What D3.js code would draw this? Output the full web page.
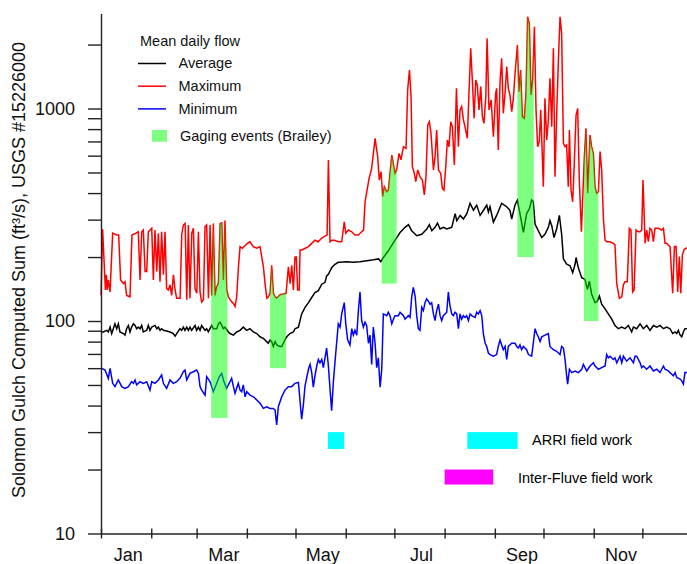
<!DOCTYPE html>
<html>
<head>
<meta charset="utf-8">
<script src="https://cdn.jsdelivr.net/npm/d3@7"></script>
<style>
body { margin: 0; background: #fff; }
svg { font-family: 'Liberation Sans', Arial, sans-serif; display: block; }
</style>
</head>
<body>
<svg id="chart" width="687" height="564"></svg>
<script>
// [day of year (0 = Jan 1), mean daily flow in ft3/s]
var maxFlow = [
    [0,132],[1,270],[2.7,140],[3.3,165],[3.9,140],[4.5,156],[5.6,137],[7.2,259],[9.7,254],[10.9,254],
    [12.1,156],[13.8,150],[14.8,153],[15.8,132],[17.9,130],[19.1,254],[21.6,259],[23,263],[24.1,156],[25.1,263],
    [26.1,268],[27.2,171],[28.2,171],[29.2,263],[30.2,268],[31.3,273],[32.3,156],[33.3,268],[34.4,171],[35.4,259],
    [36.4,153],[37.4,263],[38.5,165],[39.5,263],[40.5,142],[41.6,140],[42.6,148],[43.6,132],[44.7,165],[45.7,140],
    [46.7,128],[48.8,128],[49.8,254],[50.8,283],[51.9,288],[52.9,126],[53.9,283],[54.9,128],[56,259],[57,273],
    [58,142],[59.1,135],[60.1,263],[61.1,137],[62.1,123],[63.2,126],[64.2,278],[65.2,283],[66.3,128],[67.3,283],
    [68.3,132],[69.3,288],[70.4,132],[71.4,145],[72.4,150],[73.5,288],[74.5,290],[75.5,156],[76.5,297],[77.6,140],
    [78.6,130],[79.6,126],[80.7,123],[81.7,121],[82.7,117],[83.7,130],[84.8,180],[85.8,224],[87.2,220],[89.3,228],
    [90.3,232],[91.9,236],[93.9,224],[96.1,220],[98.1,224],[100.2,180],[101.2,150],[102.3,128],[103.3,130],[104.3,135],
    [105.3,183],[106.4,135],[107.4,130],[108.4,128],[110.5,133],[112.6,134],[114.2,135],[115.6,180],[116.7,150],[117.7,183],
    [118.7,140],[119.7,200],[120.5,200],[121.3,140],[122.3,140],[122.8,216],[124,216],[126,220],[128,224],[130,232],
    [132,240],[134,236],[136,245],[138,250],[139.5,254],[140.3,573],[141.3,236],[142.3,240],[144,240],[146.5,236],
    [148.5,236],[150.1,293],[151,259],[152.6,268],[154.7,263],[156.7,254],[158.8,254],[160.8,263],[162,268],[162.9,364],
    [165.4,469],[167,523],[169.1,724],[170.7,593],[171.7,461],[172.8,504],[173.8,385],[174.8,429],[176.3,406],[177.3,413],
    [179.4,604],[181.4,495],[182.4,514],[183.9,615],[185.1,573],[186.6,661],[188.2,649],[189.2,1222],[190.3,1518],[191.3,1137],
    [192.1,532],[193.3,495],[194.2,453],[195.4,514],[196.8,478],[198.3,461],[199.5,392],[200.5,478],[201.6,836],[202.6,867],
    [203.6,764],[205.1,514],[206.1,593],[207.1,793],[208.2,514],[209.6,495],[210.6,421],[211.6,413],[212.7,532],[213.7,711],
    [214.7,661],[215.8,867],[216.8,820],[218,542],[219.3,1245],[220.5,661],[221.5,985],[222.5,1021],[223.6,884],[224.6,820],
    [226,724],[227.1,1222],[228.1,1919],[229.1,1362],[230.2,899],[231.2,1362],[232.2,1290],[233.2,985],[234.3,1268],[235.3,916],
    [236.3,851],[237.4,1137],[238.2,2138],[239.4,985],[240.7,1097],[242.1,737],[243.5,1178],[244.1,1245],[245.1,638],[246.2,1337],
    [247.2,1722],[248.2,949],[249.3,1178],[250.3,1574],[251.3,1245],[252.3,1157],[253.4,966],[254.4,1117],[255.4,1439],[256.9,1991],
    [257.9,1200],[258.9,1518],[260,916],[261.2,899],[262.2,1178],[263.2,2704],[264.3,2517],[265.3,1157],[266.3,1362],[267.4,2427],
    [268.4,985],[269.4,661],[270.4,698],[271.3,985],[272.3,593],[272.9,429],[273.9,1117],[275,711],[276,884],[277,1387],
    [278.1,820],[279.1,1919],[280.1,478],[281.1,916],[282.2,1691],[283.2,2704],[284.2,2259],[285.3,685],[286.3,661],[287.3,673],
    [288.3,429],[289,793],[290,413],[291,364],[292,552],[293.1,932],[294.1,1002],[295.1,461],[296.4,263],[298.2,593],
    [299.2,807],[300.3,399],[301.7,750],[302.7,661],[303.8,615],[304.8,429],[305.8,399],[306.9,406],[307.9,627],[308.9,514],
    [310,300],[311,240],[312,236],[314.1,236],[316.1,232],[317.1,228],[318.2,150],[319.8,128],[321.3,130],[322.3,148],
    [323.3,153],[324.7,153],[326,273],[327,268],[328,137],[328.9,140],[330.1,268],[331.5,263],[332.6,263],[333.6,268],
    [334.4,461],[335.7,232],[336.7,268],[337.7,236],[338.7,273],[339.8,268],[340.8,236],[341.8,273],[343.9,273],[345.9,268],
    [347,273],[348,232],[349,232],[350,228],[351.1,224],[352.7,135],[353.8,224],[354.8,224],[355.8,137],[356.8,201],
    [357.7,135],[358.7,205],[359.7,216],[360.7,220],[361.6,220],[365,220]
];

var avgFlow = [
    [0.4,88.8],[1.4,88.8],[3.5,90.4],[4.5,88.8],[5.6,93.6],[6.6,87.3],[7.6,92],[8.6,97],[9.7,92],[10.7,97],
    [11.7,88.8],[13.8,87.3],[14.8,85.8],[15.8,92],[16.9,95.3],[17.9,88.8],[18.9,93.6],[20,97],[21,95.3],[22,92],
    [23,93.6],[24.1,92],[25.1,95.3],[26.1,88.8],[28.2,90.4],[29.2,95.3],[30.2,90.4],[31.3,93.6],[33.3,95.3],[34.4,92],
    [35.4,93.6],[36.4,90.4],[37.4,92],[38.5,90.4],[40.5,89.8],[42.6,88.8],[44.6,87.3],[45.7,84.9],[46.7,87.3],[48.7,92],
    [49.8,90.4],[50.8,93.6],[51.8,90.4],[52.9,93.6],[53.9,90.4],[54.9,93.6],[55.9,90.4],[58,95.3],[59,90.4],[60.1,93.6],
    [61.1,90.4],[62.1,95.3],[64.2,90.4],[65.2,92],[66.2,88.8],[68.3,95.3],[69.3,92],[71.4,92],[72.4,97],[73.4,98.7],
    [74.5,95.3],[75.5,92],[76.5,93.6],[78.6,88.8],[79.6,87.3],[81.7,85.8],[83.7,88.8],[85.8,90.4],[87.8,93.6],[89.9,90.4],
    [91.9,92],[94,88.8],[96.1,87.3],[98.1,84.3],[100.2,82.8],[102.2,80],[103.2,78.6],[104.3,81.4],[105.3,80],[106.3,75.9],
    [107.4,80],[108.4,77.2],[110.4,75.9],[111.5,75.9],[112.5,78.6],[113.5,81.4],[114.6,84.3],[116.6,87.3],[118.7,88.8],[119.7,92],
    [121.8,93.6],[123.8,108],[125.9,116],[128,122],[130,129],[132,136],[134.1,139],[136.2,149],[138.2,152],[139.2,163],
    [140.3,166],[141.3,172],[142.3,178],[143.4,182],[144.4,185],[146.4,189],[147.5,189],[151.6,190],[155.7,189],[159.8,190],
    [164,192],[168.1,194],[171.2,196],[172.6,190],[174.2,199],[177.3,214],[180.4,234],[182.5,247],[184.5,261],[187.6,276],
    [189.7,284],[191.7,266],[194.8,252],[197.9,256],[201,271],[202.6,284],[204.1,266],[206.1,276],[207.6,289],[209.2,271],
    [211.3,276],[213.3,271],[216.4,276],[218.5,320],[219.5,297],[221.6,314],[223.6,302],[225.7,320],[227.7,358],[229.8,332],
    [231.8,351],[233.9,314],[236,332],[238,351],[239,326],[240,345],[242.1,292],[244.1,314],[247.2,358],[250.3,345],
    [252.3,332],[253.4,302],[255.4,351],[256.9,371],[258.5,320],[260.6,261],[262.6,320],[264.3,338],[265.7,371],[266.7,365],
    [267.8,286],[269.8,266],[271.9,247],[273.9,256],[276,276],[277,297],[278.1,281],[279.5,247],[281.1,271],[282.8,314],
    [284.2,256],[285.3,196],[287.3,185],[289.4,182],[291,169],[292.5,185],[293.1,199],[294.5,178],[296.6,160],[298.6,157],
    [300.1,141],[301.3,154],[302.7,134],[304.8,122],[306.2,124],[307.5,131],[308.9,120],[311,114],[313,108],[315.1,102],
    [317.1,95.3],[319.2,92],[321.3,93.6],[323.3,92],[325.4,95.3],[327.4,88.8],[328.5,93.6],[330.5,92],[332.6,97],[334.6,92],
    [336.7,95.3],[338.7,90.4],[340.8,95.3],[342.9,93.6],[344.9,95.3],[347,92],[349,93.6],[351.1,92],[352.7,87.3],[354.2,88.8],
    [355.2,87.3],[356.2,90.4],[357.3,85.8],[358.3,84.3],[359.3,88.8],[360.3,92],[361.6,92],[365,92]
];

var minFlow = [
    [0.4,59.9],[2.5,58.8],[4.5,53.7],[5.6,59.9],[7.2,50.9],[8.6,49.1],[10.7,52.8],[12.8,49.1],[14.8,48.2],[16.9,49.1],
    [18.9,51.8],[20,50.9],[21,52.8],[22,50],[24.1,51.8],[26.1,50.9],[28.2,51.8],[30.2,47.3],[31.3,51.8],[33.3,50.9],
    [35.4,52.8],[37.4,55.7],[38.5,50.9],[40.5,48.2],[42.6,52.8],[44.6,50.9],[46.7,51.8],[48.7,53.7],[50.8,57.7],[51.8,58.8],
    [52.9,52.8],[54.9,56.7],[57,57.7],[59,58.8],[60.1,56.7],[61.1,49.1],[62.1,47.3],[64.2,44.8],[65.2,54.7],[67.3,51.8],
    [69.3,46.5],[71.4,50.9],[73,54.7],[74.5,56.7],[75.5,52.8],[77.5,48.2],[79.6,51.8],[80.6,53.7],[81.7,49.1],[82.7,45.7],
    [83.7,48.2],[84.7,50.9],[85.8,47.3],[86.8,46.5],[87.8,50],[88.9,44],[89.9,46.5],[91.9,44.8],[94,44],[96.1,42.5],
    [98.1,41],[100.2,38.8],[102.2,39.5],[104.3,38.8],[106.3,38.8],[107.4,38.1],[108.4,32.4],[109.4,39.5],[111.5,44],[113.5,47.3],
    [115.6,49.1],[117.6,49.1],[119.7,50.9],[121.8,51.4],[123.8,34.5],[124.8,40],[125.9,49.7],[128,59.3],[129,62.5],[130,57.2],
    [131,48.8],[132,55.2],[133.1,61.4],[134.1,65.9],[135.1,63.6],[136.2,65.9],[137.2,60.3],[139.2,74.6],[140.3,61.4],[141.3,47.9],
    [142.3,37.8],[143.4,52.3],[144.4,64.7],[146.4,97],[147.5,93.6],[148.5,108],[150.1,122],[151,97],[152.2,81.4],[153.6,77.2],
    [154.7,92],[155.7,85.8],[156.7,90.4],[157.8,85.8],[158.8,112],[159.8,137],[160.8,100.5],[161.9,93.6],[162.9,98.7],[163.9,95.3],
    [165,78.6],[166,85.8],[167,62.5],[168,93.6],[169.1,78.6],[170.1,60.3],[171.1,67.1],[172.2,48.8],[173.2,59.3],[174.2,108],
    [176.3,106],[177.3,110],[178.3,106],[179.4,97],[180.4,102],[181.4,106],[183.5,106],[184.5,110],[185.5,108],[186.6,106],
    [187.6,102],[189.6,106],[190.7,104],[191.7,130],[192.7,144],[193.8,131],[194.8,106],[195.8,92],[196.8,90.4],[197.9,116],
    [198.9,112],[199.9,122],[200.9,127],[202,124],[203,120],[204,122],[205.1,108],[206.1,100.5],[207.1,112],[208.2,120],
    [209.2,106],[210.2,100.5],[211.2,106],[212.3,108],[213.3,110],[214.3,137],[215.3,118],[216.4,108],[217.4,106],[218.4,110],
    [219.5,108],[220.5,92],[221.5,108],[222.5,102],[223.6,106],[224.6,104],[225.6,106],[226.7,100.5],[227.7,108],[228.7,106],
    [230.8,104],[231.8,110],[232.8,108],[233.9,112],[234.9,106],[235.9,87.3],[237,78.6],[238,75.9],[239,70.7],[240,69.5],
    [242.1,68.3],[244.1,69.5],[245.1,75.9],[246.2,81.4],[247.2,77.2],[248.2,73.3],[249.3,75.9],[250.3,65.9],[251.3,75.9],[253.4,78.6],
    [255.4,78.6],[256.5,75.9],[257.5,74.6],[258.5,77.2],[259.5,73.3],[260.6,75.9],[262.6,73.3],[263.7,69.5],[265.7,68.3],[266.7,78.6],
    [267.8,92],[268.8,87.3],[269.8,84.3],[270.9,80],[271.9,84.3],[273.9,85.8],[276,87.3],[277,75.9],[279.1,73.3],[281.1,72],
    [283.2,69.5],[284.2,75.9],[285.3,74.6],[286.3,65.9],[287.3,55.2],[287.9,50.5],[289,59.3],[290.4,57.2],[292.5,58.2],[294.5,57.2],
    [296.6,59.3],[297.6,62.5],[298.6,60.3],[299.7,58.2],[301.7,61.4],[303.8,63.6],[304.8,61.4],[306.9,59.3],[308.9,60.3],[311,61.4],
    [312,69.5],[313,67.1],[314.1,68.3],[316.1,65.9],[317.1,67.1],[318.2,63.6],[320.2,68.3],[321.3,63.6],[322.3,68.3],[324.3,64.7],
    [326.4,67.1],[328.5,63.6],[329.5,68.3],[330.5,68.3],[332.6,63.6],[333.6,60.3],[334.6,61.4],[336.7,59.3],[338.7,61.4],[340.8,58.2],
    [342.9,59.3],[344.9,57.2],[347,61.4],[348,59.3],[350,58.2],[352.1,56.2],[353.1,55.2],[354.2,57.2],[355.2,54.2],[357.3,53.3],
    [358.3,52.3],[359.3,50.5],[360.3,57.2],[361.6,57.2],[365,57]
];

// [first day, last day, lowest flow of the bar]
var gagingEvents = [[68, 78, 35], [104.3, 114.2, 60], [173.2, 182.4, 150], [256.9, 267, 200], [298, 306.9, 100]];

var fieldWork = [
    {crew: 'ARRI', start: 140, end: 150, low: 25, high: 30},
    {crew: 'ARRI', start: 226, end: 257, low: 25, high: 30},
    {crew: 'Inter-Fluve', start: 212, end: 242, low: 17, high: 20}
];

var yTicks = [10, 20, 30, 40, 50, 60, 70, 80, 90, 100, 200, 300, 400, 500, 600, 700, 800, 900, 1000, 2000];
var yLabels = [10, 100, 1000];
var monthLabels = ['Jan', 'Mar', 'May', 'Jul', 'Sep', 'Nov'];

var crewColor = {'ARRI': '#00ffff', 'Inter-Fluve': '#ff00ff'};

var svg = d3.select('#chart');

var t0 = Date.UTC(2001, 0, 1);
function day(d) {
    return new Date(t0 + d * 864e5);
}

var x = d3.scaleUtc()
          .domain([day(0), day(365)])
          .range([101, 692.6]);

var y = d3.scaleLog()
          .domain([10, 2800])
          .range([533.5, 13.5]);

var line = d3.line()
             .x(d => x(day(d[0])))
             .y(d => y(d[1]));

// area under the maximum curve, gaging bars are cut by it
svg.append('clipPath')
   .attr('id', 'underMax')
   .append('path')
   .attr('d', d3.area().x(d => x(day(d[0]))).y0(y(10)).y1(d => y(d[1]))(maxFlow));

svg.append('path')
   .datum(avgFlow)
   .attr('fill', 'none')
   .attr('stroke', '#000')
   .attr('stroke-width', 1.5)
   .attr('d', line);

svg.append('path')
   .datum(maxFlow)
   .attr('fill', 'none')
   .attr('stroke', '#ff0000')
   .attr('stroke-width', 1.5)
   .attr('d', line);

svg.append('path')
   .datum(minFlow)
   .attr('fill', 'none')
   .attr('stroke', '#0000ff')
   .attr('stroke-width', 1.5)
   .attr('d', line);

svg.append('g')
   .attr('clip-path', 'url(#underMax)')
   .selectAll('rect')
   .data(gagingEvents)
   .enter()
   .append('rect')
   .attr('x', d => x(day(d[0])))
   .attr('width', d => x(day(d[1])) - x(day(d[0])))
   .attr('y', y(2800))
   .attr('height', d => y(d[2]) - y(2800))
   .attr('fill', '#00ff00')
   .attr('fill-opacity', 0.5);

svg.selectAll('.field')
   .data(fieldWork)
   .enter()
   .append('rect')
   .attr('class', 'field')
   .attr('x', d => x(day(d.start)))
   .attr('width', d => x(day(d.end)) - x(day(d.start)))
   .attr('y', d => y(d.high))
   .attr('height', d => y(d.low) - y(d.high))
   .attr('fill', d => crewColor[d.crew]);

svg.append('text')
   .attr('x', 532)
   .attr('y', 444.5)
   .style('font-size', '14.5px')
   .text('ARRI field work');

svg.append('text')
   .attr('x', 518)
   .attr('y', 482.5)
   .style('font-size', '14.5px')
   .text('Inter-Fluve field work');

// axes
var xAxis = svg.append('g')
   .attr('transform', 'translate(0,533.5)')
   .call(d3.axisBottom(x).ticks(d3.utcMonth.every(1)).tickFormat('').tickSizeOuter(0));
xAxis.selectAll('.tick line').attr('y1', -5).attr('y2', 5);

var labelDates = d3.utcMonth.every(2).range(day(0), day(365)).map(m => new Date(+m + 16.5 * 864e5));
var xLabels = svg.append('g')
   .attr('transform', 'translate(0,533.5)')
   .call(d3.axisBottom(x).tickValues(labelDates).tickFormat((d, i) => monthLabels[i]).tickSize(0).tickPadding(15));
xLabels.select('.domain').remove();

var yAxis = svg.append('g')
   .attr('transform', 'translate(101,0)')
   .call(d3.axisLeft(y).tickValues(yTicks).tickFormat(d => yLabels.indexOf(d) >= 0 ? d : '')
                       .tickSize(13).tickPadding(13).tickSizeOuter(0));

[xAxis, xLabels, yAxis].forEach(g => {
    g.attr('font-family', null).attr('font-size', null);
    g.selectAll('path, line').attr('stroke', '#222').attr('stroke-width', 1.4);
    g.selectAll('text').attr('fill', '#111').style('font-size', '18px');
});

svg.append('text')
   .attr('transform', 'rotate(-90)')
   .attr('x', -270)
   .attr('y', 25)
   .attr('text-anchor', 'middle')
   .attr('fill', '#111')
   .style('font-size', '18px')
   .text('Solomon Gulch Computed Sum (ft³/s), USGS #15226000');

// legend
var legend = svg.append('g').style('font-size', '14.5px').attr('fill', '#111');

legend.append('text')
      .attr('x', 140)
      .attr('y', 46)
      .text('Mean daily flow');

var legendLines = [['Average', '#000'], ['Maximum', '#ff0000'], ['Minimum', '#0000ff']];
legendLines.forEach((item, i) => {
    legend.append('line')
          .attr('x1', 138).attr('x2', 166)
          .attr('y1', 63.5 + i * 22.7).attr('y2', 63.5 + i * 22.7)
          .attr('stroke', item[1])
          .attr('stroke-width', 1.5);
    legend.append('text')
          .attr('x', 178.5)
          .attr('y', 68.2 + i * 22.7)
          .text(item[0]);
});

legend.append('rect')
      .attr('x', 152).attr('y', 130)
      .attr('width', 15).attr('height', 11.7)
      .attr('fill', '#00ff00')
      .attr('fill-opacity', 0.5);

legend.append('text')
      .attr('x', 180)
      .attr('y', 140.7)
      .text('Gaging events (Brailey)');
</script>
</body>
</html>
